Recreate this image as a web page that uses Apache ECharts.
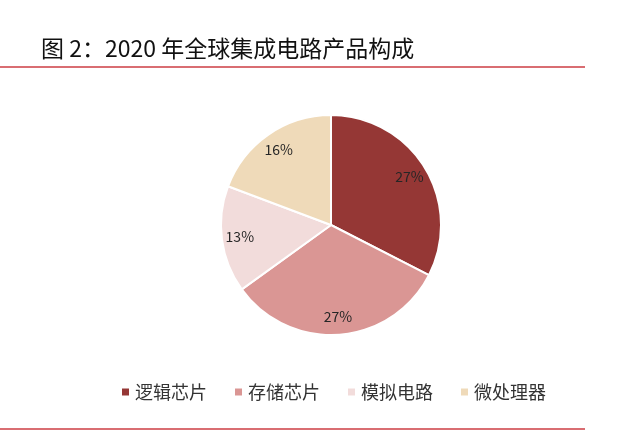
<!DOCTYPE html>
<html>
<head>
<meta charset="utf-8">
<script src="https://cdn.jsdelivr.net/npm/echarts@6/dist/echarts.min.js"></script>
<style>
    html, body { margin: 0; padding: 0; background: #fff; }
    #pie { width: 640px; height: 437px; }
</style>
</head>
<body>
<div id="pie"></div>
<script>
// 图 2 数据
const categories = ['逻辑芯片', '存储芯片', '模拟电路', '微处理器']
const shares = [27, 27, 13, 16]
const colors = ['#953735', '#da9694', '#f2dcdb', '#efdab9']

const buildData = function() {
    return categories.map((name, i) => {
        return {
            name: name,
            value: shares[i],
        }
    })
}

const optionForPie = function(data) {
    const option = {
        animation: false,
        color: colors,
        title: {
            text: '图 2：2020 年全球集成电路产品构成',
            left: 36,
            top: 32,
            textStyle: {
                fontFamily: 'Noto Sans CJK SC',
                fontSize: 23,
                fontWeight: 'normal',
                color: '#111',
            },
        },
        legend: {
            data: categories,
            left: 115,
            top: 378,
            icon: 'rect',
            itemWidth: 9,
            itemHeight: 9,
            itemGap: 26,
            textStyle: {
                fontFamily: 'Noto Sans CJK SC',
                fontSize: 18,
                color: '#333',
            },
        },
        graphic: [
            {
                type: 'line',
                shape: { x1: 0, y1: 67, x2: 585, y2: 67 },
                style: { stroke: '#cc3d43', lineWidth: 1.5 },
            },
            {
                type: 'line',
                shape: { x1: 0, y1: 429, x2: 585, y2: 429 },
                style: { stroke: '#cc3d43', lineWidth: 1.5 },
            },
        ],
        series: [
            {
                name: '产品构成',
                type: 'pie',
                radius: 110,
                center: [331, 225],
                startAngle: 90,
                clockwise: true,
                data: data,
                label: { show: false },
                labelLine: { show: false },
                itemStyle: {
                    borderColor: '#fff',
                    borderWidth: 2,
                },
            },
            {
                // 只用来放百分比标签
                name: '标签',
                type: 'pie',
                radius: 178,
                center: [331, 225],
                startAngle: 90,
                clockwise: true,
                silent: true,
                data: data,
                itemStyle: { color: 'rgba(0,0,0,0)' },
                label: {
                    show: true,
                    position: 'inside',
                    formatter: '{c}%',
                    fontFamily: 'Noto Sans CJK SC',
                    fontSize: 14,
                    color: '#262626',
                },
                labelLine: { show: false },
                emphasis: { disabled: true },
            },
        ],
    }
    return option
}

const __main = function() {
    const chart = echarts.init(document.getElementById('pie'))
    chart.setOption(optionForPie(buildData()))
}

__main()
</script>
</body>
</html>
